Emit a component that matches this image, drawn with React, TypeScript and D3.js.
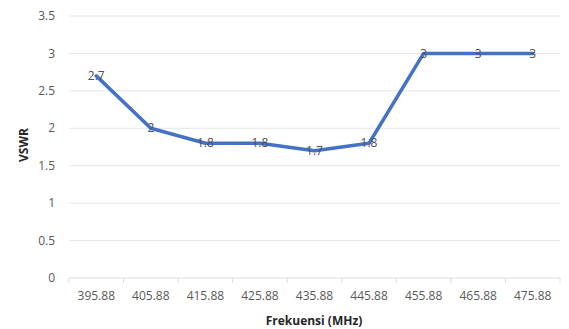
import React from "react";
import * as d3 from "d3";

const categories = ["395.88", "405.88", "415.88", "425.88", "435.88", "445.88", "455.88", "465.88", "475.88"];
const vswr = [2.7, 2, 1.8, 1.8, 1.7, 1.8, 3, 3, 3];
const yTicks = [0, 0.5, 1, 1.5, 2, 2.5, 3, 3.5];
const xTitle = "Frekuensi (MHz)";
const yTitle = "VSWR";

export default function App() {
  const W = 569, H = 329;
  const left = 69, right = 560, top = 16, bottom = 278;
  const x = d3.scaleBand<string>().domain(categories).range([left, right]);
  const y = d3.scaleLinear().domain([0, 3.5]).range([bottom, top]);
  const line = d3.line<number>()
    .x((_, i) => (x(categories[i]) as number) + x.bandwidth() / 2)
    .y((d) => y(d));
  const font = "'Open Sans', 'Liberation Sans', sans-serif";
  return (
    <svg width={W} height={H} style={{ position: "absolute", left: 0, top: 0, background: "#fff" }} fontFamily={font}>
      <rect width={W} height={H} fill="#fff" />
      {yTicks.map((t) => (
        <g key={t}>
          <line x1={left} x2={right} y1={y(t)} y2={y(t)} stroke={t === 0 ? "#d9dde3" : "#e3e6ea"} strokeWidth={1} />
          <text x={55} y={y(t)} dy="0.35em" textAnchor="end" fontSize={12} fill="#595959">{t}</text>
        </g>
      ))}
      {categories.map((c, i) => (
        <g key={c}>
          <line x1={x(c) as number} x2={x(c) as number} y1={bottom} y2={bottom + 5} stroke="#d9dde3" />
          <text x={(x(c) as number) + x.bandwidth() / 2} y={296} dy="0.35em" textAnchor="middle" fontSize={12} fill="#595959">{c}</text>
        </g>
      ))}
      <line x1={right} x2={right} y1={bottom} y2={bottom + 5} stroke="#d9dde3" />
      <path d={line(vswr) || ""} fill="none" stroke="#4472C4" strokeWidth={3.5} strokeLinejoin="round" strokeLinecap="round" />
      {vswr.map((v, i) => (
        <text key={i} x={(x(categories[i]) as number) + x.bandwidth() / 2} y={y(v)} dy="0.35em" textAnchor="middle" fontSize={12} fill="#505050">{v}</text>
      ))}
      <text x={314} y={321} dy="0.35em" textAnchor="middle" fontSize={12} fontWeight="bold" fill="#262626">{xTitle}</text>
      <text transform={`translate(24, 145) rotate(-90)`} dy="0.35em" textAnchor="middle" fontSize={12} fontWeight="bold" fill="#262626">{yTitle}</text>
    </svg>
  );
}
